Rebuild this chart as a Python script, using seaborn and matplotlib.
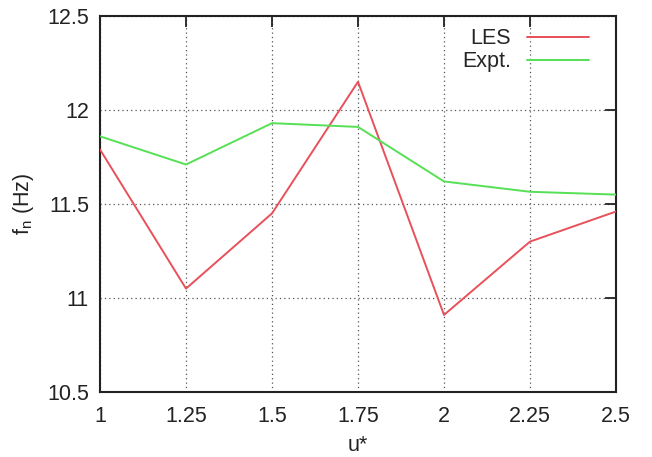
import matplotlib
matplotlib.use("Agg")
import matplotlib.pyplot as plt
import seaborn as sns
import pandas as pd

u_star = [1.0, 1.25, 1.5, 1.75, 2.0, 2.25, 2.5]
les = [11.79, 11.05, 11.45, 12.15, 10.91, 11.30, 11.46]
expt = [11.86, 11.71, 11.93, 11.91, 11.62, 11.565, 11.55]
series_names = ["LES", "Expt."]
x_ticks = [1, 1.25, 1.5, 1.75, 2, 2.25, 2.5]
x_tick_labels = ["1", "1.25", "1.5", "1.75", "2", "2.25", "2.5"]
y_ticks = [10.5, 11, 11.5, 12, 12.5]
y_tick_labels = ["10.5", "11", "11.5", "12", "12.5"]

df = pd.DataFrame({
    "u": u_star * 2,
    "f": les + expt,
    "series": [series_names[0]] * len(les) + [series_names[1]] * len(expt),
})

sns.set_style("white")
plt.rcParams["font.family"] = ["Liberation Sans", "DejaVu Sans"]
plt.rcParams["mathtext.fontset"] = "custom"
plt.rcParams["mathtext.rm"] = "Liberation Sans"

fs = 15.5
fig = plt.figure(figsize=(6.52, 4.57), dpi=100)
ax = fig.add_axes([100 / 652, 1 - 392 / 457, 516 / 652, 376 / 457])

palette = {"LES": "#e8505a", "Expt.": "#55e055"}
sns.lineplot(data=df, x="u", y="f", hue="series", palette=palette, ax=ax,
             linewidth=1.4, legend=True, zorder=3)

ax.set_xlim(1, 2.5)
ax.set_ylim(10.5, 12.5)
ax.set_xticks(x_ticks)
ax.set_xticklabels(x_tick_labels)
ax.set_yticks(y_ticks)
ax.set_yticklabels(y_tick_labels)
ax.grid(True, linestyle=(0, (1, 2.5)), color="#555555", linewidth=0.9)
ax.tick_params(direction="in", length=8, width=1.3, top=True, right=True,
               labelsize=fs, colors="#222222", pad=8)
ax.tick_params(axis="x", pad=10)
for s in ax.spines.values():
    s.set_color("#222222")
    s.set_linewidth(1.5)
    s.set_visible(True)

ax.set_xlabel("u*", fontsize=fs, color="#222222", labelpad=6)
ax.set_ylabel(r"f$_\mathregular{n}$ (Hz)", fontsize=fs, color="#222222", labelpad=8)

leg = ax.legend(loc="upper right", frameon=False, markerfirst=False,
                fontsize=fs, handlelength=2.9, handletextpad=0.75,
                labelspacing=0.08, borderaxespad=0.0,
                bbox_to_anchor=(0.965, 0.99))

fig.savefig("out.png", dpi=100, facecolor="white")
